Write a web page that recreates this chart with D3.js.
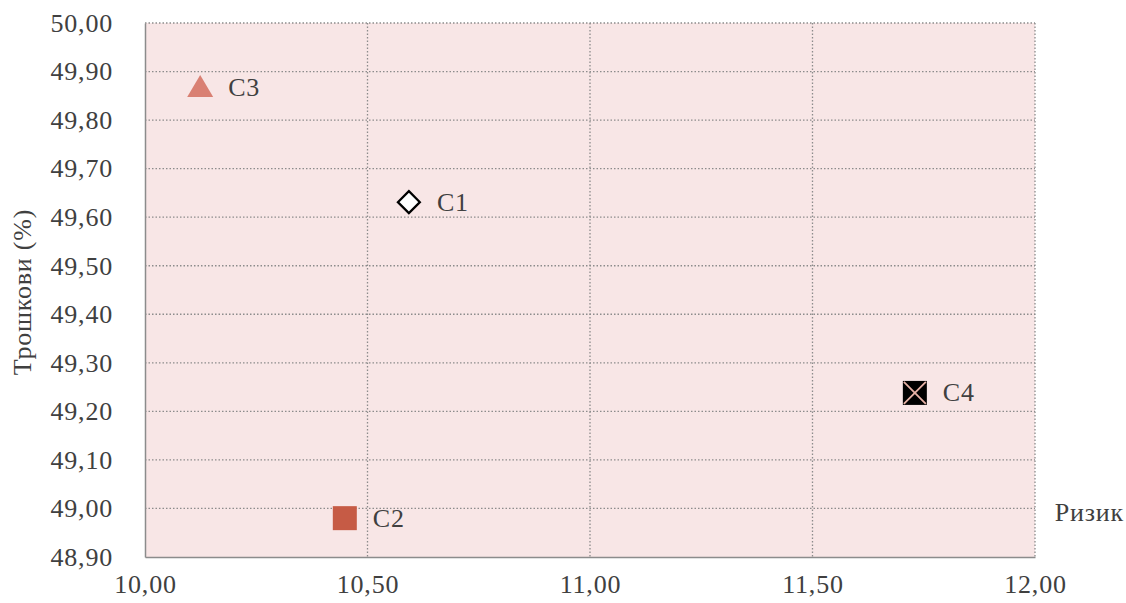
<!DOCTYPE html>
<html><head><meta charset="utf-8">
<script src="https://cdn.jsdelivr.net/npm/d3@7"></script>
<style>
body{margin:0;background:#fff;}
text{font-family:"Liberation Serif",serif;fill:#404040;letter-spacing:0.8px;}
</style></head>
<body><svg id="c" width="1126" height="603"></svg>
<script>
const names = ["C1","C2","C3","C4"];
const risk = [10.593, 10.449, 10.124, 11.730];
const cost = [49.631, 48.980, 49.868, 49.238];
const xTicks = [10.0, 10.5, 11.0, 11.5, 12.0];
const yTicks = [48.9, 49.0, 49.1, 49.2, 49.3, 49.4, 49.5, 49.6, 49.7, 49.8, 49.9, 50.0];
const xTitle = "Ризик";
const yTitle = "Трошкови (%)";

const FONT = "Liberation Serif", FS = 26;
const svg = d3.select("#c");
const L=145, R=1035, T=23, B=557;
const x = d3.scaleLinear().domain([10,12]).range([L,R]);
const y = d3.scaleLinear().domain([48.9,50]).range([B,T]);
const fmt = v => d3.format(".2f")(v).replace(".", ",");

svg.append("rect").attr("x",L).attr("y",T).attr("width",R-L).attr("height",B-T).attr("fill","#F8E6E6");

// grid
const g = svg.append("g");
g.selectAll(".gx").data(xTicks.slice(1)).join("line")
  .attr("x1",d=>x(d)).attr("x2",d=>x(d)).attr("y1",T).attr("y2",B)
  .attr("stroke","#8c8c8c").attr("stroke-width",1.3).attr("stroke-dasharray","1.5,2");
g.selectAll(".gy").data(yTicks.slice(1)).join("line")
  .attr("x1",L).attr("x2",R).attr("y1",d=>y(d)).attr("y2",d=>y(d))
  .attr("stroke","#8c8c8c").attr("stroke-width",1.3).attr("stroke-dasharray","1.5,2");

// axes
const xa = svg.append("g").attr("transform",`translate(0,${B})`)
  .call(d3.axisBottom(x).tickValues(xTicks).tickFormat(fmt).tickSize(0).tickPadding(13));
xa.select(".domain").attr("stroke","#8c8c8c").attr("stroke-width",1.5);
xa.selectAll("text").attr("font-size",FS).attr("fill","#404040").attr("dy","0.9em").style("font-family",FONT);
const ya = svg.append("g").attr("transform",`translate(${L},0)`)
  .call(d3.axisLeft(y).tickValues(yTicks).tickFormat(fmt).tickSize(0).tickPadding(32));
ya.select(".domain").attr("stroke","#8c8c8c").attr("stroke-width",1.5);
ya.selectAll("text").attr("font-size",FS).attr("fill","#404040").style("font-family",FONT);

svg.append("text").attr("x",1124).attr("y",512).attr("text-anchor","end").attr("dominant-baseline","central")
  .attr("font-size",FS).text(xTitle);
svg.append("text").attr("transform","translate(22,292) rotate(-90)").attr("text-anchor","middle")
  .attr("dominant-baseline","central").attr("font-size",FS).text(yTitle);

// markers
const pts = names.map((n,i)=>({n, x:x(risk[i]), y:y(cost[i])}));
const m = svg.append("g");
pts.forEach(p=>{
  if(p.n==="C3"){
    m.append("path").attr("d",`M${p.x},${p.y-12}L${p.x+13},${p.y+10}L${p.x-13},${p.y+10}Z`).attr("fill","#D98073");
  } else if(p.n==="C1"){
    m.append("path").attr("d",`M${p.x},${p.y-11}L${p.x+11},${p.y}L${p.x},${p.y+11}L${p.x-11},${p.y}Z`)
      .attr("fill","#fff").attr("stroke","#000").attr("stroke-width",2.2);
  } else if(p.n==="C4"){
    m.append("rect").attr("x",p.x-12).attr("y",p.y-12).attr("width",24).attr("height",24).attr("fill","#000");
    m.append("path").attr("d",`M${p.x-11},${p.y-11}L${p.x+11},${p.y+11}M${p.x+11},${p.y-11}L${p.x-11},${p.y+11}`)
      .attr("stroke","#E7B2A6").attr("stroke-width",1.8);
  } else {
    m.append("rect").attr("x",p.x-12).attr("y",p.y-12).attr("width",24).attr("height",24).attr("fill","#C65B45");
  }
  m.append("text").attr("x",p.x+28).attr("y",p.y).attr("dominant-baseline","central")
    .attr("font-size",FS).text(p.n);
});
</script></body></html>
